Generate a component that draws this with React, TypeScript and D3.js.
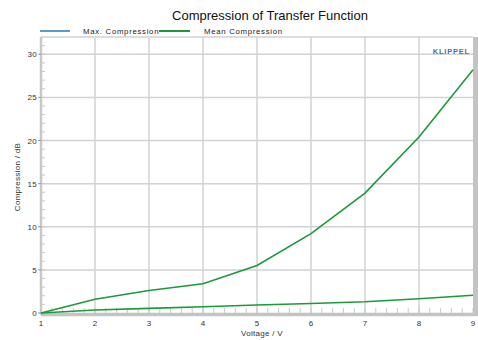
import * as d3 from "d3";

const voltages = [1, 2, 3, 4, 5, 6, 7, 8, 9];
const meanCompression = [0, 1.6, 2.6, 3.4, 5.5, 9.2, 13.9, 20.4, 28.2];
const lowerCompression = [0, 0.35, 0.54, 0.73, 0.93, 1.1, 1.3, 1.65, 2.05];
const yTicks = [0, 5, 10, 15, 20, 25, 30];
const xTicks = [1, 2, 3, 4, 5, 6, 7, 8, 9];

export default function App() {
  const width = 478;
  const height = 340;
  const margin = { top: 37, right: 5, bottom: 27, left: 41 };

  const x = d3.scaleLinear().domain([1, 9]).range([margin.left, width - margin.right]);
  const y = d3.scaleLinear().domain([0, 32]).range([height - margin.bottom, margin.top]);

  const line = d3
    .line<number>()
    .x((_, i) => x(voltages[i]))
    .y((d) => y(d));

  const font = "Liberation Sans, Arial, sans-serif";
  const green = "#1a9a3c";
  const grid = "#d2d2d2";
  const x0 = x(1);
  const x1 = x(9);
  const y0 = y(0);
  const yTop = margin.top;

  const minorX = d3.range(1, 9.001, 0.2);
  const minorY = d3.range(0, 32, 1);

  return (
    <svg width={width} height={height} style={{ position: "absolute", left: 0, top: 0, fontFamily: font }}>
      <rect width={width} height={height} fill="#fff" />
      <text x={270} y={20} textAnchor="middle" fontSize={13} fill="#111">
        Compression of Transfer Function
      </text>

      {/* Legend */}
      <line x1={40} x2={70} y1={31} y2={31} stroke="#5b9bd5" strokeWidth={2} />
      <text x={83} y={33.5} fontSize={7.8} letterSpacing={0.7} fill="#222">Max. Compression</text>
      <line x1={159} x2={190} y1={31} y2={31} stroke={green} strokeWidth={2} />
      <text x={204} y={33.5} fontSize={7.8} letterSpacing={0.7} fill="#222">Mean Compression</text>

      {/* Grid */}
      <line x1={x0} x2={x1} y1={yTop} y2={yTop} stroke={grid} strokeWidth={1.5} />
      {xTicks.slice(1, -1).map((t) => (
        <line key={t} x1={x(t)} x2={x(t)} y1={yTop} y2={y0} stroke={grid} strokeWidth={1.5} />
      ))}
      {yTicks.slice(1).map((t) => (
        <line key={t} x1={x0} x2={x1} y1={y(t)} y2={y(t)} stroke={grid} strokeWidth={1.5} />
      ))}

      {/* Minor ticks */}
      {minorX.map((t, i) => (
        <line key={i} x1={x(t)} x2={x(t)} y1={y0} y2={y0 - 5} stroke="#c8c8c8" strokeWidth={1} />
      ))}
      {minorY.map((t) => (
        <line key={t} x1={x0} x2={x0 + 4} y1={y(t)} y2={y(t)} stroke="#c8c8c8" strokeWidth={1} />
      ))}

      {/* Axes frame */}
      <line x1={x0} x2={x0} y1={yTop} y2={y0 + 2} stroke="#c8c8c8" strokeWidth={2.5} />
      <line x1={x0} x2={width} y1={y0 + 1.5} y2={y0 + 1.5} stroke="#c4c4c4" strokeWidth={3.5} />
      <line x1={x1 + 2.5} x2={x1 + 2.5} y1={yTop} y2={y0 + 3} stroke="#c4c4c4" strokeWidth={5} />

      {/* Tick labels */}
      {yTicks.map((t) => (
        <g key={t}>
          <line x1={x0 - 3} x2={x0} y1={y(t)} y2={y(t)} stroke="#999" strokeWidth={1} />
          <text x={x0 - 4} y={y(t) + 3} textAnchor="end" fontSize={8} letterSpacing={0.3} fill="#333">
            {t}
          </text>
        </g>
      ))}
      {xTicks.map((t) => (
        <text key={t} x={x(t)} y={y0 + 13} textAnchor="middle" fontSize={8} fill="#333">
          {t}
        </text>
      ))}

      <text x={262} y={336} textAnchor="middle" fontSize={8} letterSpacing={0.3} fill="#333">
        Voltage / V
      </text>
      <text
        transform={`translate(20,177) rotate(-90)`}
        textAnchor="middle"
        fontSize={8}
        letterSpacing={0.3}
        fill="#333"
      >
        Compression / dB
      </text>

      <text x={470} y={54} textAnchor="end" fontSize={7.5} fontWeight={600} letterSpacing={0.8} fill="#5a6aa6">
        KLIPPEL
      </text>

      {/* Curves */}
      <path d={line(lowerCompression) ?? ""} fill="none" stroke={green} strokeWidth={1.6} />
      <path d={line(meanCompression) ?? ""} fill="none" stroke={green} strokeWidth={1.6} />
    </svg>
  );
}
